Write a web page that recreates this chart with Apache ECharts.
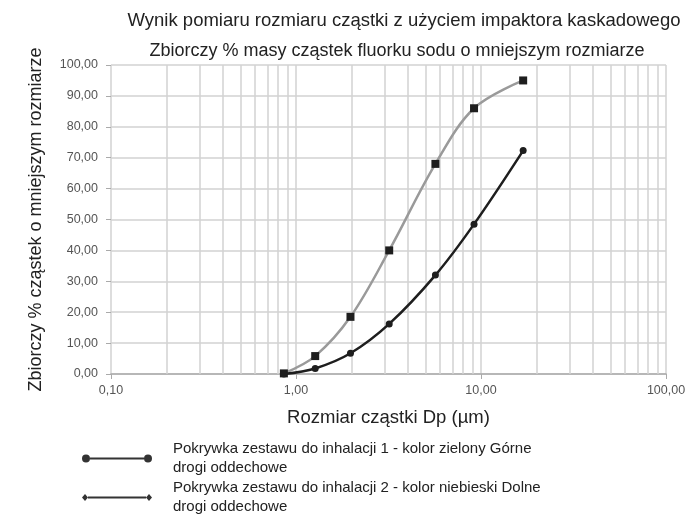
<!DOCTYPE html>
<html>
<head>
<meta charset="utf-8">
<script src="https://cdn.jsdelivr.net/npm/echarts@6/dist/echarts.min.js"></script>
<style>
html,body{margin:0;padding:0;background:#fff;}
#main{width:699px;height:522px;}
</style>
</head>
<body>
<div id="main"></div>
<script>
// rozmiar czastki Dp (um)
var sizes = [0.86, 1.27, 1.97, 3.19, 5.67, 9.17, 16.9];
var upperVals = [0.0, 1.8, 6.7, 16.2, 32.0, 48.5, 72.3];   // czarna linia, kolka
var lowerVals = [0.2, 5.8, 18.5, 40.0, 68.0, 86.0, 95.0];  // szara linia, kwadraty
var minorX = [0.2,0.3,0.4,0.5,0.6,0.7,0.8,0.9,2,3,4,5,6,7,8,9,20,30,40,50,60,70,80,90];
var name1 = 'Pokrywka zestawu do inhalacji 1 - kolor zielony Górne\ndrogi oddechowe';
var name2 = 'Pokrywka zestawu do inhalacji 2 - kolor niebieski Dolne\ndrogi oddechowe';

var myChart = echarts.init(document.getElementById('main'));

function pairs(xs, ys){
    var out = [];
    for (var i = 0; i < xs.length; i++) out.push([xs[i], ys[i]]);
    return out;
}
function fmt(v){
    return Number(v).toFixed(2).replace('.', ',');
}

var font = 'Liberation Sans, Arial, sans-serif';
var gridColor = '#d2d2d2';
var legendText = {fontSize: 15, lineHeight: 19.5, color: '#222', fontFamily: font, padding: [0, 0, 0, 16]};

var option = {
    backgroundColor: '#fff',
    textStyle: {fontFamily: font},
    title: [
        {
            text: 'Wynik pomiaru rozmiaru cząstki z użyciem impaktora kaskadowego',
            left: 399, top: 6, textAlign: 'center',
            textStyle: {fontSize: 18.5, fontWeight: 'normal', color: '#222', fontFamily: font}
        },
        {
            text: 'Zbiorczy % masy cząstek fluorku sodu o mniejszym rozmiarze',
            left: 392, top: 37, textAlign: 'center',
            textStyle: {fontSize: 18, fontWeight: 'normal', color: '#222', fontFamily: font}
        }
    ],
    legend: [
        {
            left: 77, top: 434,
            itemWidth: 70, itemHeight: 8,
            symbolKeepAspect: false,
            textStyle: legendText,
            data: [{name: name1, icon: 'path://M0,4a4,4 0 1,1 8,0a4,4 0 1,1 -8,0Z M62,4a4,4 0 1,1 8,0a4,4 0 1,1 -8,0Z M8,3H62V5H8Z',
                    itemStyle: {color: '#333', borderWidth: 0}}]
        },
        {
            left: 77, top: 473,
            itemWidth: 70, itemHeight: 7,
            symbolKeepAspect: false,
            textStyle: legendText,
            data: [{name: name2, icon: 'path://M0,3.5L3,0.5L6,3.5L3,6.5Z M64,3.5L67,0.5L70,3.5L67,6.5Z M6,2.7H64V4.3H6Z',
                    itemStyle: {color: '#333', borderWidth: 0}}]
        }
    ],
    grid: {left: 111, right: 33, top: 65, bottom: 148},
    xAxis: {
        type: 'log', logBase: 10, min: 0.1, max: 100,
        name: 'Rozmiar cząstki Dp (µm)',
        nameLocation: 'middle', nameGap: 34,
        nameTextStyle: {fontSize: 18.5, color: '#222', fontFamily: font},
        axisLine: {lineStyle: {color: '#aaa', width: 1.5}},
        axisTick: {show: true, length: 5, lineStyle: {color: '#aaa'}},
        axisLabel: {formatter: fmt, fontSize: 12.5, color: '#555', margin: 10},
        splitLine: {show: true, lineStyle: {color: gridColor, width: 1.5}}
    },
    yAxis: {
        type: 'value', min: 0, max: 100, interval: 10,
        name: 'Zbiorczy % cząstek o mniejszym rozmiarze',
        nameLocation: 'middle', nameGap: 66, nameRotate: 90,
        nameTextStyle: {fontSize: 18, color: '#222', fontFamily: font},
        axisLine: {show: false},
        axisTick: {show: true, length: 5, lineStyle: {color: '#aaa'}},
        axisLabel: {formatter: fmt, fontSize: 12.5, color: '#555', margin: 13},
        splitLine: {show: true, lineStyle: {color: gridColor, width: 1.5}}
    },
    series: [
        {
            name: 'minor', type: 'line', data: [], silent: true, z: 0,
            markLine: {
                silent: true, symbol: 'none', animation: false,
                label: {show: false},
                lineStyle: {color: gridColor, width: 1.5, type: 'solid'},
                data: minorX.map(function(v){ return {xAxis: v}; })
            }
        },
        {
            name: name2, type: 'line', smooth: 0.35, zlevel: 1,
            data: pairs(sizes, lowerVals),
            symbol: 'rect', symbolSize: 8,
            lineStyle: {color: '#9a9a9a', width: 2.5},
            itemStyle: {color: '#1e1e1e'},
            z: 3
        },
        {
            name: name1, type: 'line', smooth: 0.35, zlevel: 1,
            data: pairs(sizes, upperVals),
            symbol: 'circle', symbolSize: 7,
            lineStyle: {color: '#1e1e1e', width: 2.5},
            itemStyle: {color: '#1e1e1e'},
            z: 4
        }
    ],
    animation: false
};
myChart.setOption(option);
</script>
</body>
</html>
